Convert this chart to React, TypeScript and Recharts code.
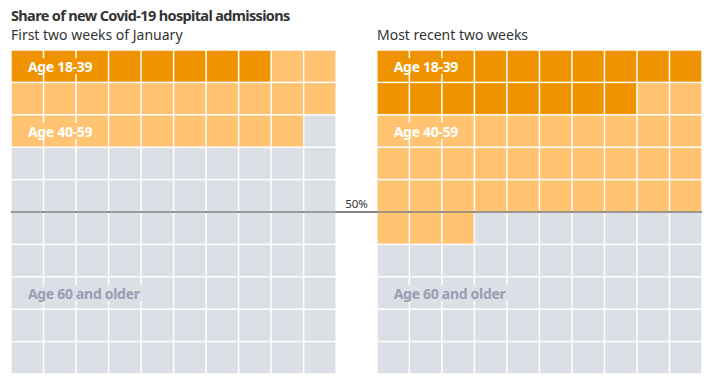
import { ScatterChart, Scatter, XAxis, YAxis, ReferenceLine, ReferenceDot } from "recharts";

// share of new admissions, percent, one cell = 1%
const groups = ["Age 18-39", "Age 40-59", "Age 60 and older"];
const periods = ["First two weeks of January", "Most recent two weeks"];
const firstTwoWeeks = [8, 21, 71];
const recentTwoWeeks = [18, 35, 47];
const labelRows = [0.5, 2.5, 7.5];

const COLORS = ["#F09300", "#FFC372", "#DCDFE6"];
const LABEL_COLORS = ["#FFFFFF", "#FFFFFF", "#9A9DB3"];

const W = 724;
const H = 391;
const MARGIN = { top: 50, right: 22, bottom: 17, left: 11 };
const GAP = 1.25; // empty cells between the two grids
const X_MAX = 20 + GAP;
const CELL_W = (W - MARGIN.left - MARGIN.right) / X_MAX;
const CELL_H = (H - MARGIN.top - MARGIN.bottom) / 10;
const FONT = "'Noto Sans', sans-serif";

type Cell = { x: number; y: number; group: number };

function buildCells(shares: number[], panel: number): Cell[] {
  const cells: Cell[] = [];
  let g = 0;
  let acc = shares[0];
  for (let i = 0; i < 100; i++) {
    while (i >= acc && g < shares.length - 1) {
      g++;
      acc += shares[g];
    }
    cells.push({ x: panel * (10 + GAP) + (i % 10) + 0.5, y: Math.floor(i / 10) + 0.5, group: g });
  }
  return cells;
}

const allCells = [...buildCells(firstTwoWeeks, 0), ...buildCells(recentTwoWeeks, 1)];

const square = (fill: string) => (props: any) => (
  <rect
    x={props.cx - CELL_W / 2 + 0.75}
    y={props.cy - CELL_H / 2 + 0.75}
    width={CELL_W - 1.5}
    height={CELL_H - 1.5}
    fill={fill}
  />
);

const groupLabel = (text: string, g: number) => (props: any) => {
  const w = text.length * 7.1 + 6;
  return (
    <g>
      <rect x={props.cx - 3} y={props.cy - 8} width={w} height={16} fill={COLORS[g]} />
      <text
        x={props.cx}
        y={props.cy}
        dominantBaseline="central"
        fill={LABEL_COLORS[g]}
        fontFamily={FONT}
        fontWeight={700}
        fontSize={14}
        letterSpacing={-0.3}
      >
        {text}
      </text>
    </g>
  );
};

export default function App() {
  return (
    <div style={{ position: "absolute", left: 0, top: 0, width: W, height: H, background: "#fff", fontFamily: FONT, color: "#333" }}>
      <div style={{ position: "absolute", left: 11, top: 5, fontSize: 14.5, fontWeight: 700, letterSpacing: -0.65, color: "#333" }}>
        Share of new Covid-19 hospital admissions
      </div>
      {periods.map((p, i) => (
        <div key={p} style={{ position: "absolute", left: i === 0 ? 11 : 377, top: 25, fontSize: 14, color: "#333" }}>
          {p}
        </div>
      ))}
      <ScatterChart width={W} height={H} margin={MARGIN} style={{ position: "absolute", left: 0, top: 0 }}>
        <XAxis type="number" dataKey="x" domain={[0, X_MAX]} hide />
        <YAxis type="number" dataKey="y" domain={[0, 10]} reversed hide />
        {groups.map((g, gi) => (
          <Scatter
            key={g}
            name={g}
            data={allCells.filter((c) => c.group === gi)}
            shape={square(COLORS[gi])}
            isAnimationActive={false}
          />
        ))}
        {[0, 1].map((panel) =>
          groups.map((g, gi) => (
            <ReferenceDot
              key={`${panel}-${g}`}
              x={panel * (10 + GAP) + 0.52}
              y={labelRows[gi]}
              r={0}
              shape={groupLabel(g, gi)}
            />
          ))
        )}
        <ReferenceLine
          y={5}
          stroke="#6f6f6f"
          strokeOpacity={0.85}
          strokeWidth={2}
          label={{ value: "50%", position: "top", offset: 4, fill: "#333", fontSize: 11.5, fontFamily: FONT }}
        />
      </ScatterChart>
    </div>
  );
}
